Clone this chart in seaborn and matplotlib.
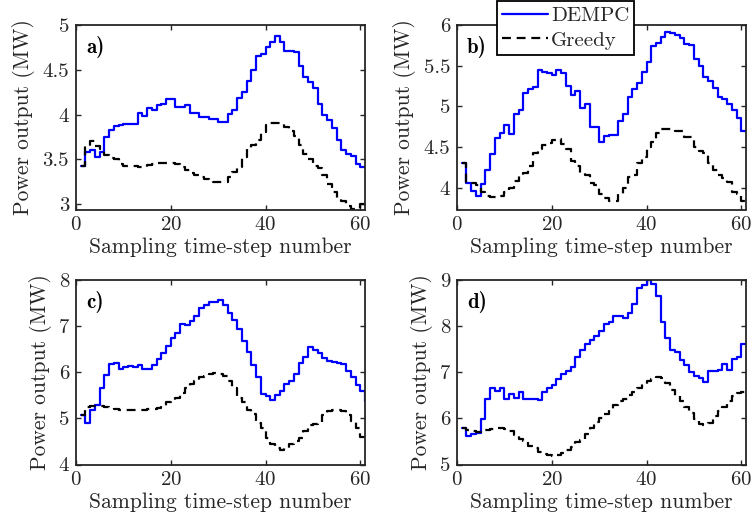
import numpy as np
import pandas as pd
import matplotlib
matplotlib.use("Agg")
import matplotlib.pyplot as plt
from matplotlib.ticker import FuncFormatter
from matplotlib.lines import Line2D
import seaborn as sns

# sampling steps 1..61
steps = list(range(1, 62))

dempc_a = [3.43, 3.58, 3.60, 3.53, 3.58, 3.75, 3.83, 3.87, 3.88, 3.89,
           3.89, 3.89, 4.02, 3.98, 4.07, 4.05, 4.11, 4.12, 4.17, 4.17,
           4.08, 4.08, 4.11, 4.02, 4.02, 3.97, 3.97, 3.95, 3.95, 3.92,
           3.92, 4.01, 4.05, 4.18, 4.25, 4.37, 4.50, 4.65, 4.68, 4.75,
           4.81, 4.88, 4.81, 4.71, 4.71, 4.70, 4.54, 4.42, 4.36, 4.30,
           4.12, 3.99, 3.94, 3.85, 3.72, 3.60, 3.56, 3.54, 3.45, 3.42, 3.42]
greedy_a = [3.43, 3.65, 3.70, 3.65, 3.62, 3.55, 3.52, 3.50, 3.45, 3.43,
            3.43, 3.43, 3.42, 3.42, 3.44, 3.45, 3.46, 3.46, 3.46, 3.46,
            3.45, 3.42, 3.38, 3.35, 3.32, 3.30, 3.28, 3.26, 3.25, 3.25,
            3.25, 3.30, 3.36, 3.42, 3.53, 3.62, 3.66, 3.72, 3.80, 3.88,
            3.91, 3.91, 3.90, 3.86, 3.82, 3.76, 3.66, 3.56, 3.50, 3.43,
            3.40, 3.33, 3.22, 3.13, 3.07, 3.03, 2.98, 2.95, 2.95, 3.00, 3.03]

dempc_b = [4.30, 4.05, 3.96, 3.89, 4.04, 4.22, 4.41, 4.61, 4.67, 4.77,
           4.66, 4.91, 4.95, 5.16, 5.21, 5.24, 5.45, 5.42, 5.41, 5.39,
           5.45, 5.41, 5.25, 5.14, 5.19, 4.98, 5.03, 4.74, 4.74, 4.56,
           4.64, 4.65, 4.65, 4.82, 4.90, 5.12, 5.21, 5.29, 5.42, 5.55,
           5.74, 5.78, 5.85, 5.91, 5.90, 5.88, 5.84, 5.77, 5.76, 5.58,
           5.50, 5.36, 5.31, 5.22, 5.11, 5.09, 5.03, 4.95, 4.86, 4.69, 4.69]
greedy_b = [4.30, 4.07, 4.05, 4.03, 3.95, 3.89, 3.88, 3.88, 3.90, 3.94,
            4.00, 4.08, 4.15, 4.18, 4.27, 4.42, 4.48, 4.52, 4.55, 4.59,
            4.60, 4.53, 4.48, 4.33, 4.27, 4.18, 4.15, 4.06, 4.03, 3.92,
            3.87, 3.84, 3.83, 3.92, 4.00, 4.13, 4.15, 4.30, 4.37, 4.50,
            4.56, 4.67, 4.72, 4.72, 4.72, 4.70, 4.70, 4.62, 4.62, 4.50,
            4.45, 4.43, 4.30, 4.22, 4.15, 4.12, 4.07, 3.94, 3.92, 3.84, 3.82]

dempc_c = [5.07, 4.90, 5.19, 5.30, 5.65, 5.95, 6.18, 6.20, 6.08, 6.11,
           6.14, 6.11, 6.16, 6.06, 6.08, 6.15, 6.29, 6.42, 6.56, 6.74,
           6.86, 7.04, 7.02, 7.11, 7.21, 7.39, 7.45, 7.53, 7.52, 7.57,
           7.46, 7.28, 7.14, 6.94, 6.67, 6.44, 6.16, 5.89, 5.53, 5.48,
           5.39, 5.50, 5.60, 5.75, 5.82, 5.96, 6.19, 6.32, 6.54, 6.49,
           6.42, 6.31, 6.24, 6.23, 6.19, 6.18, 6.02, 5.89, 5.72, 5.59, 5.37]
greedy_c = [5.07, 5.25, 5.27, 5.27, 5.26, 5.24, 5.22, 5.20, 5.18, 5.18,
            5.18, 5.18, 5.19, 5.19, 5.20, 5.20, 5.23, 5.26, 5.35, 5.40,
            5.45, 5.55, 5.65, 5.75, 5.80, 5.90, 5.92, 5.96, 5.98, 5.97,
            5.92, 5.80, 5.65, 5.45, 5.35, 5.18, 5.10, 4.90, 4.80, 4.58,
            4.45, 4.35, 4.32, 4.35, 4.45, 4.52, 4.58, 4.73, 4.85, 4.88,
            4.90, 5.08, 5.16, 5.19, 5.19, 5.16, 5.08, 4.95, 4.80, 4.60, 4.52]

dempc_d = [5.80, 5.62, 5.67, 5.68, 5.98, 6.41, 6.65, 6.60, 6.65, 6.43,
           6.52, 6.45, 6.57, 6.41, 6.43, 6.43, 6.39, 6.57, 6.65, 6.72,
           6.86, 6.96, 7.03, 7.11, 7.34, 7.49, 7.61, 7.70, 7.78, 7.90,
           8.04, 8.09, 8.22, 8.21, 8.17, 8.28, 8.48, 8.83, 8.89, 8.99,
           8.91, 8.66, 8.09, 7.75, 7.49, 7.44, 7.27, 7.15, 7.01, 6.91,
           6.88, 6.79, 7.02, 7.03, 7.05, 7.18, 7.04, 7.29, 7.33, 7.62, 7.62]
greedy_d = [5.80, 5.75, 5.72, 5.70, 5.72, 5.74, 5.77, 5.80, 5.80, 5.76,
            5.72, 5.65, 5.55, 5.50, 5.40, 5.36, 5.28, 5.22, 5.20, 5.18,
            5.20, 5.26, 5.32, 5.37, 5.48, 5.53, 5.66, 5.80, 5.92, 6.00,
            6.10, 6.18, 6.28, 6.38, 6.43, 6.50, 6.58, 6.66, 6.74, 6.82,
            6.86, 6.90, 6.88, 6.76, 6.62, 6.48, 6.38, 6.25, 6.12, 5.98,
            5.88, 5.86, 5.90, 6.05, 6.15, 6.25, 6.38, 6.48, 6.55, 6.58, 6.62]

panel_labels = ["a)", "b)", "c)", "d)"]
ylims = [(2.94, 5), (3.73, 6), (4, 8), (5, 9)]
yticks = [[3, 3.5, 4, 4.5, 5], [4, 4.5, 5, 5.5, 6], [4, 5, 6, 7, 8], [5, 6, 7, 8, 9]]
xticks = [0, 20, 40, 60]

sns.set_theme(style="ticks")
plt.rcParams["font.family"] = "cmr10"
plt.rcParams["axes.formatter.use_mathtext"] = True
plt.rcParams["font.size"] = 15
dark = "#262626"

fig = plt.figure(figsize=(7.52, 5.31), dpi=100)
W, H = 752, 531
boxes = [(76, 25), (457, 25), (76, 280), (457, 280)]
aw, ah = 289, 184.5

series = [(dempc_a, greedy_a), (dempc_b, greedy_b), (dempc_c, greedy_c), (dempc_d, greedy_d)]

for i, (dem, gr) in enumerate(series):
    x0, y0 = boxes[i]
    ax = fig.add_axes([x0 / W, 1 - (y0 + ah) / H, aw / W, ah / H])
    df = pd.DataFrame({"step": steps, "DEMPC": dem, "Greedy": gr})
    sns.lineplot(data=df, x="step", y="DEMPC", ax=ax, color="#0000ff",
                 lw=1.6, drawstyle="steps-post")
    sns.lineplot(data=df, x="step", y="Greedy", ax=ax, color="black",
                 lw=1.6, linestyle=(0, (4, 2.6)), drawstyle="steps-post")
    ax.set_xlim(0, 61)
    ax.set_ylim(*ylims[i])
    ax.set_xticks(xticks)
    ax.set_yticks(yticks[i])
    ax.yaxis.set_major_formatter(FuncFormatter(lambda v, p: f"{v:g}"))
    ax.tick_params(direction="in", length=3.5, width=1.0, top=True, right=True,
                   colors=dark, labelsize=15, pad=5)
    for s in ax.spines.values():
        s.set_linewidth(1.3)
        s.set_color(dark)
    ax.set_xlabel("Sampling time-step number", fontsize=15.5, color=dark, labelpad=2)
    ax.set_ylabel("Power output (MW)", fontsize=15.5, color=dark, labelpad=5)
    ax.text(0.035, 0.94, panel_labels[i], transform=ax.transAxes, ha="left",
            va="top", fontsize=15, family="cmb10", color="black")

handles = [Line2D([], [], color="#0000ff", lw=1.6),
           Line2D([], [], color="black", lw=1.6, linestyle=(0, (4, 2.6)))]
leg = fig.legend(handles, ["DEMPC", "Greedy"], loc="lower left",
                 bbox_to_anchor=(496.7 / W, 1 - 55 / H), borderaxespad=0.0,
                 frameon=True, fancybox=False, fontsize=15, handlelength=2.2,
                 labelspacing=0.3, borderpad=0.25, handletextpad=0.15)
leg.get_frame().set_edgecolor("black")
leg.get_frame().set_linewidth(1.3)
leg.get_frame().set_alpha(1)

fig.savefig("out.png", dpi=100)
